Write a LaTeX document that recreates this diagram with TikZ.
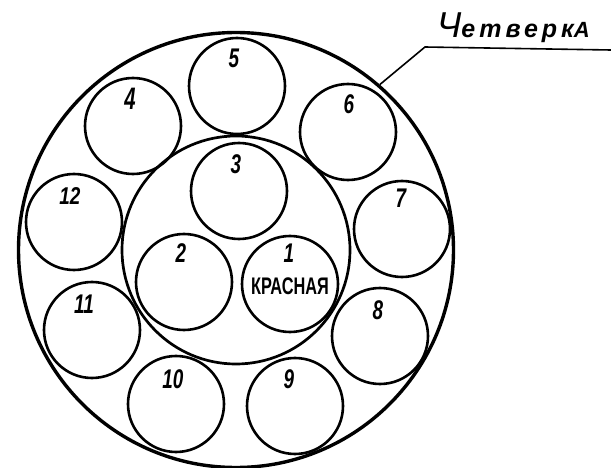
\documentclass[tikz,border=0pt]{standalone}
\usepackage{fontspec}
\setmainfont{Liberation Sans}
\newfontfamily\titlefont[LetterSpace=16]{Liberation Sans}
\begin{document}
\begin{tikzpicture}[x=1pt,y=-1pt,
  wire/.style={circle,draw,line width=2.6pt,minimum size=96pt,inner sep=0pt},
  shell/.style={circle,draw,inner sep=0pt},
  num/.style={inner sep=0pt,font=\fontsize{27}{27}\selectfont\bfseries\itshape},
  lead/.style={line width=1.6pt}]
\useasboundingbox (0,0) rectangle (611,468);
% shells
\node[shell,line width=3.4pt,minimum size=435pt] (outer) at (236,250) {};
\node[shell,line width=2.7pt,minimum size=228pt] (inner) at (236,250) {};
% inner wires
\node[wire] (c1) at (290,284) {};
\node[wire] (c2) at (184,282) {};
\node[wire] (c3) at (239,191) {};
% outer ring wires
\node[wire] (c4) at (133,126) {};
\node[wire] (c5) at (237,86) {};
\node[wire] (c6) at (348,132) {};
\node[wire] (c7) at (402,229) {};
\node[wire] (c8) at (380,336) {};
\node[wire] (c9) at (295,406) {};
\node[wire] (c10) at (176,404) {};
\node[wire] (c11) at (92,330) {};
\node[wire] (c12) at (74,222) {};
% numbers
\node[num] (n1) at (289,253) {\scalebox{0.7}[1]{1}};
\node[num] (n2) at (181,253) {\scalebox{0.7}[1]{2}};
\node[num] (n3) at (236,164) {\scalebox{0.7}[1]{3}};
\node[num] (n4) at (130,99) {\scalebox{0.75}[1.15]{4}};
\node[num] (n5) at (234,58) {\scalebox{0.7}[1]{5}};
\node[num] (n6) at (349,104) {\scalebox{0.7}[1]{6}};
\node[num] (n7) at (401,198) {\scalebox{0.7}[1]{7}};
\node[num] (n8) at (378,310) {\scalebox{0.7}[1]{8}};
\node[num] (n9) at (289,379) {\scalebox{0.7}[1]{9}};
\node[num] (n10) at (173,379) {\scalebox{0.7}[1]{10}};
\node[num] (n11) at (84,304) {\scalebox{0.7}[1]{11}};
\node[num] (n12) at (70,196) {\scalebox{0.7}[0.9]{12}};
\node[inner sep=0pt,font=\fontsize{24}{24}\selectfont\bfseries] (red) at (290,286) {\scalebox{0.68}[1]{КРАСНАЯ}};
% leader and title
\coordinate (lk) at (425,47);
\coordinate (le) at (611,50);
\draw[lead] (outer.49) -- (lk) -- (le);
\node[anchor=base west,inner sep=0pt] (title) at (437,38)
  {\titlefont\itshape{\fontsize{36}{36}\selectfont Ч}{\bfseries\fontsize{25}{25}\selectfont етверк\fontsize{22}{22}\selectfont А}};
\end{tikzpicture}
\end{document}
